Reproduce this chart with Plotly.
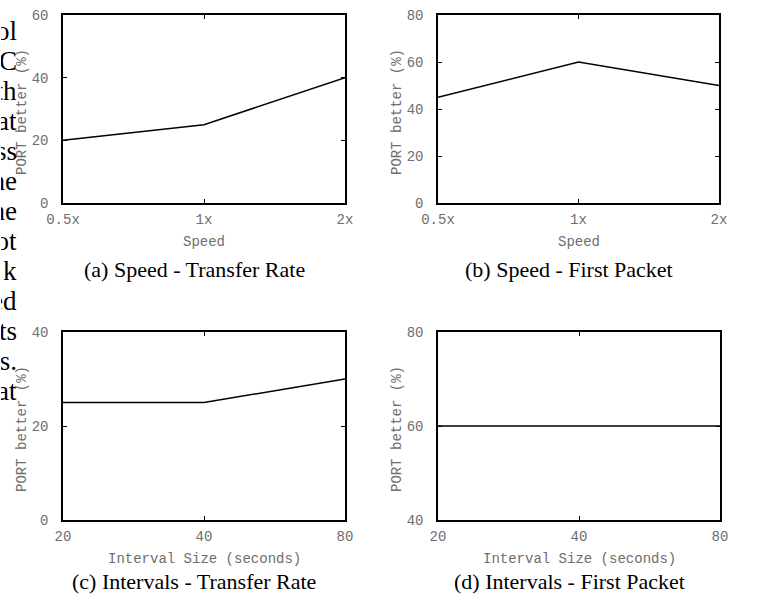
import plotly.graph_objects as go

W, H = 758, 602

speed_labels = ["0.5x", "1x", "2x"]
interval_labels = ["20", "40", "80"]

speed_transfer = [20, 25, 40]
speed_first = [45, 60, 50]
interval_transfer = [25, 25, 30]
interval_first = [60, 60, 60]

captions = ["(a) Speed - Transfer Rate", "(b) Speed - First Packet",
            "(c) Intervals - Transfer Rate", "(d) Intervals - First Packet"]
x_titles = ["Speed", "Speed", "Interval Size (seconds)", "Interval Size (seconds)"]
y_title = "PORT better (%)"
y_ranges = [[0, 60], [0, 80], [0, 40], [40, 80]]
y_dticks = [20, 20, 20, 20]

side_text = ["ol", "C", "th", "at", "ss", "he", "he", "ot", "k", "ed", "ts", "s.", "at"]

# pixel boxes of the four panels (left, right, top, bottom)
boxes = [(63, 345, 15, 203), (438, 719, 15, 203), (63, 345, 332, 520), (438, 720, 332, 520)]
caption_gap = [67, 67, 61, 61]

def px(x):
    return x / W

def py(y):
    return 1 - y / H

mono = "Liberation Mono, Courier New, monospace"
serif = "Liberation Serif, Times New Roman, serif"
gray = "#6e6e6e"

fig = go.Figure()
series = [(speed_labels, speed_transfer), (speed_labels, speed_first),
          (interval_labels, interval_transfer), (interval_labels, interval_first)]

annotations = []
for i, ((xs, ys), (l, r, t, b)) in enumerate(zip(series, boxes)):
    n = "" if i == 0 else str(i + 1)
    fig.add_trace(go.Scatter(x=xs, y=ys, mode="lines", line=dict(color="black", width=1.5),
                             xaxis="x" + n, yaxis="y" + n, showlegend=False, hoverinfo="skip"))
    axcommon = dict(showline=True, linecolor="black", linewidth=1.5, mirror="ticks",
                    ticks="inside", ticklen=4, tickcolor="black", tickwidth=1,
                    showgrid=False, zeroline=False, automargin=False,
                    tickfont=dict(family=mono, size=14, color=gray))
    fig.layout["xaxis" + n] = dict(domain=[px(l), px(r)], anchor="y" + n, type="category",
                                   range=[0, 2], ticklabelstandoff=2, **axcommon)
    fig.layout["yaxis" + n] = dict(domain=[py(b), py(t)], anchor="x" + n, range=y_ranges[i],
                                   dtick=y_dticks[i], tick0=0, ticklabelstandoff=10, **axcommon)
    cx = (l + r) / 2
    annotations.append(dict(text=x_titles[i], x=px(cx), y=py(b + 39), xref="paper", yref="paper",
                            showarrow=False, font=dict(family=mono, size=14, color=gray),
                            xanchor="center", yanchor="middle"))
    annotations.append(dict(text=y_title, x=px(l - 41), y=py((t + b) / 2 + 3), xref="paper", yref="paper",
                            showarrow=False, textangle=-90, font=dict(family=mono, size=14, color=gray),
                            xanchor="center", yanchor="middle"))
    annotations.append(dict(text=captions[i], x=px(cx - 10), y=py(b + caption_gap[i]), xref="paper",
                            yref="paper", showarrow=False,
                            font=dict(family=serif, size=22, color="black"),
                            xanchor="center", yanchor="middle"))

for k, s in enumerate(side_text):
    annotations.append(dict(text=s, x=0, y=py(31 + k * 30), xref="paper", yref="paper",
                            showarrow=False, font=dict(family=serif, size=27, color="black"),
                            xanchor="left", yanchor="middle", width=16, align="right",
                            borderpad=0))

fig.update_layout(width=W, height=H, margin=dict(l=0, r=0, t=0, b=0, autoexpand=False),
                  paper_bgcolor="white", plot_bgcolor="white", annotations=annotations)
fig.write_html("out.html", config={"displayModeBar": False},
               post_script="document.body.style.margin='0';document.body.style.overflow='hidden';")
